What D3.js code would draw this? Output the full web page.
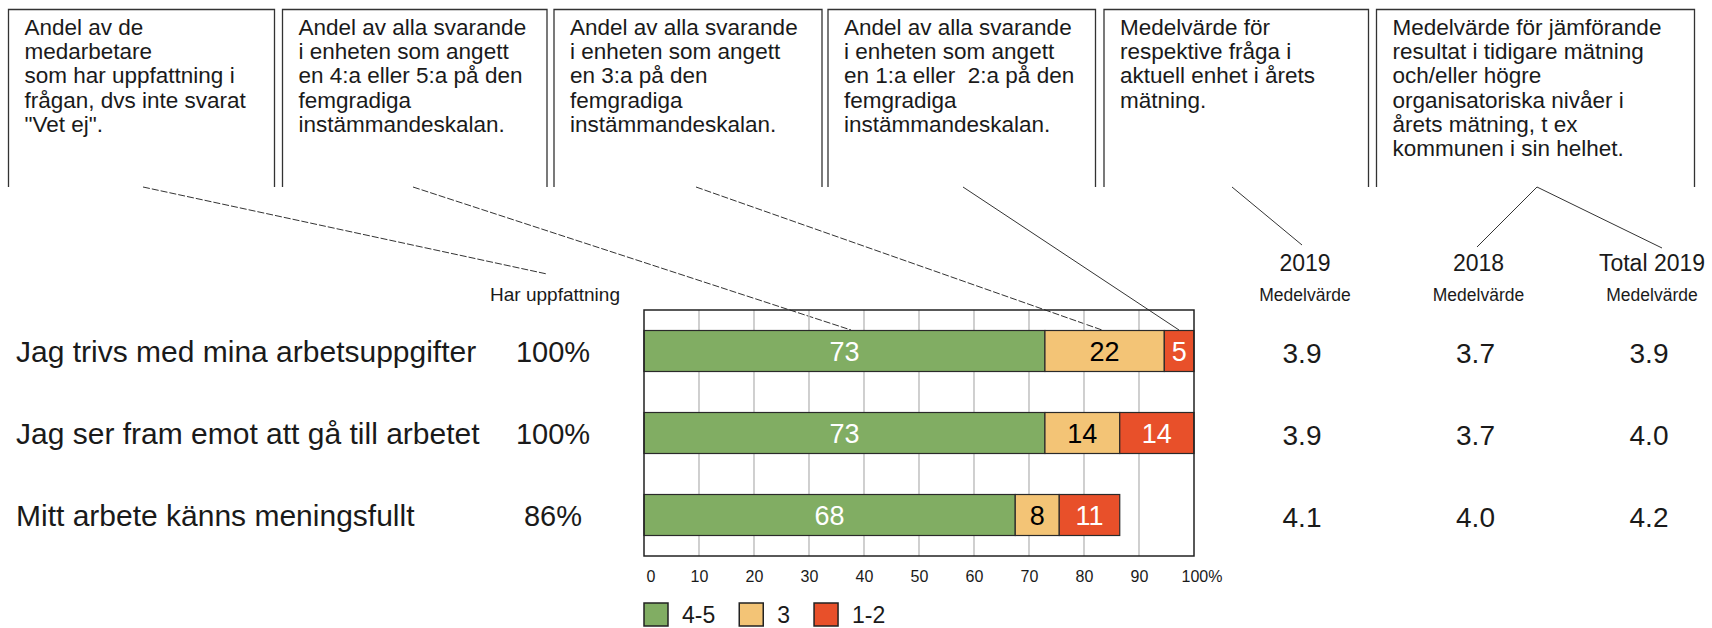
<!DOCTYPE html>
<html>
<head>
<meta charset="utf-8">
<script src="https://cdn.jsdelivr.net/npm/d3@7"></script>
<style>
  body { margin: 0; background: #fff; }
  svg { display: block; font-family: "Liberation Sans", Arial, sans-serif; }
</style>
</head>
<body>
<svg id="chart" width="1712" height="628"></svg>
<script>
// --- data ---
const questions = [
  "Jag trivs med mina arbetsuppgifter",
  "Jag ser fram emot att gå till arbetet",
  "Mitt arbete känns meningsfullt"
];
const harUppfattning = [100, 100, 86];
const share45 = [72.9, 72.9, 67.5];
const share3 = [21.7, 13.6, 8.0];
const share12 = [5.4, 13.5, 11.0];
const mean2019 = [3.9, 3.9, 4.1];
const mean2018 = [3.7, 3.7, 4.0];
const meanTotal2019 = [3.9, 4.0, 4.2];
const groups = ["4-5", "3", "1-2"];
const groupColors = ["#81ad63", "#f3c476", "#e8502a"];
const xTicks = [0, 10, 20, 30, 40, 50, 60, 70, 80, 90, 100];
const columnTitles = ["2019", "2018", "Total 2019"];
const columnSub = "Medelvärde";

const boxTexts = [
  ["Andel av de", "medarbetare", "som har uppfattning i", "frågan, dvs inte svarat", "\"Vet ej\"."],
  ["Andel av alla svarande", "i enheten som angett", "en 4:a eller 5:a på den", "femgradiga", "instämmandeskalan."],
  ["Andel av alla svarande", "i enheten som angett", "en 3:a på den", "femgradiga", "instämmandeskalan."],
  ["Andel av alla svarande", "i enheten som angett", "en 1:a eller  2:a på den", "femgradiga", "instämmandeskalan."],
  ["Medelvärde för", "respektive fråga i", "aktuell enhet i årets", "mätning."],
  ["Medelvärde för jämförande", "resultat i tidigare mätning", "och/eller högre", "organisatoriska nivåer i", "årets mätning, t ex", "kommunen i sin helhet."]
];

// --- layout ---
const svg = d3.select("#chart");
const ink = "#1a1a1a";

const x = d3.scaleLinear().domain([0, 100]).range([644, 1194]);
const y = d3.scaleBand().domain(questions).range([310, 556])
  .paddingInner(0.5).paddingOuter(0.25);
const mid = q => y(q) + y.bandwidth() / 2;

// explanation boxes (open at the bottom)
const boxes = [
  [8.5, 274.5], [282.5, 547], [554, 822], [828, 1095.5], [1104, 1368.5], [1376.5, 1694.5]
];
const boxTop = 9.5, boxBottom = 187;
const boxG = svg.append("g");
boxes.forEach(([l, r], i) => {
  boxG.append("path")
    .attr("d", `M${l},${boxBottom}V${boxTop}H${r}V${boxBottom}`)
    .attr("fill", "none").attr("stroke", "#333").attr("stroke-width", 1.3);
  const t = boxG.append("text")
    .attr("x", l + 16).attr("y", 35)
    .attr("font-size", 22.5).attr("fill", ink)
    .style("white-space", "pre");
  t.selectAll("tspan").data(boxTexts[i]).join("tspan")
    .attr("x", l + 16).attr("dy", (d, k) => k === 0 ? 0 : 24.2)
    .text(d => d);
});

// connector lines from boxes
const connectors = [
  { pts: [[143, 187], [547, 274]], dash: "7,2" },
  { pts: [[413, 187], [851, 330]], dash: "7,2" },
  { pts: [[696, 187], [1102, 330]], dash: "7,2" },
  { pts: [[963, 187], [1179, 330]], dash: null },
  { pts: [[1232, 187], [1302, 245]], dash: null },
  { pts: [[1477, 247], [1537, 187], [1662, 248]], dash: null }
];
svg.append("g").selectAll("path").data(connectors).join("path")
  .attr("d", d => d3.line()(d.pts))
  .attr("fill", "none").attr("stroke", "#333").attr("stroke-width", 1)
  .attr("stroke-dasharray", d => d.dash);

// gridlines
svg.append("g").selectAll("line").data(xTicks.filter(d => d > 0 && d < 100)).join("line")
  .attr("x1", d => x(d)).attr("x2", d => x(d))
  .attr("y1", 310).attr("y2", 556)
  .attr("stroke", "#c4c4c4").attr("stroke-width", 1.6);

// stacked bars
const table = questions.map((q, i) => ({ q, "4-5": share45[i], "3": share3[i], "1-2": share12[i] }));
const series = d3.stack().keys(groups)(table);

const barG = svg.append("g");
series.forEach((s, si) => {
  barG.append("g").selectAll("rect").data(s).join("rect")
    .attr("x", d => x(d[0])).attr("width", d => x(d[1]) - x(d[0]))
    .attr("y", d => y(d.data.q)).attr("height", y.bandwidth())
    .attr("fill", groupColors[si])
    .attr("stroke", "#2a2a2a").attr("stroke-width", 1.2);
  barG.append("g").selectAll("text").data(s).join("text")
    .attr("x", d => (x(d[0]) + x(d[1])) / 2)
    .attr("y", d => mid(d.data.q) + 9.5)
    .attr("text-anchor", "middle").attr("font-size", 27)
    .attr("fill", si === 1 ? "#000" : "#fff")
    .text(d => Math.round(d[1] - d[0]));
});

// plot frame
svg.append("rect")
  .attr("x", x(0)).attr("y", 310).attr("width", x(100) - x(0)).attr("height", 246)
  .attr("fill", "none").attr("stroke", "#222").attr("stroke-width", 1.5);

// x axis labels
const axis = svg.append("g").attr("transform", "translate(0,556)")
  .call(d3.axisBottom(x).tickValues(xTicks).tickSize(0).tickPadding(15)
    .tickFormat(d => d === 100 ? "100%" : d));
axis.select(".domain").remove();
axis.selectAll("text").attr("font-size", 16).attr("fill", ink)
  .attr("font-family", "Liberation Sans, Arial, sans-serif");
axis.selectAll(".tick").filter(d => d === 0).select("text")
  .attr("text-anchor", "start").attr("x", 2);
axis.selectAll(".tick").filter(d => d === 100).select("text")
  .attr("text-anchor", "start").attr("x", -13);

// legend
const legend = svg.append("g").attr("transform", "translate(644,603)");
let lx = 0;
groups.forEach((g, i) => {
  legend.append("rect").attr("x", lx).attr("y", 0).attr("width", 24).attr("height", 23)
    .attr("fill", groupColors[i]).attr("stroke", "#222").attr("stroke-width", 1.5);
  const t = legend.append("text").attr("x", lx + 38).attr("y", 20)
    .attr("font-size", 23).attr("fill", ink).text(g);
  lx += 38 + t.node().getComputedTextLength() + 24;
});

// question labels and "Har uppfattning"
svg.append("text").attr("x", 555).attr("y", 301).attr("text-anchor", "middle")
  .attr("font-size", 19).attr("fill", ink).text("Har uppfattning");
svg.append("g").selectAll("text").data(questions).join("text")
  .attr("x", 16).attr("y", d => mid(d) + 10.5)
  .attr("font-size", 30).attr("fill", ink).text(d => d);
svg.append("g").selectAll("text").data(questions).join("text")
  .attr("x", 553).attr("y", d => mid(d) + 10.5)
  .attr("text-anchor", "middle").attr("font-size", 29).attr("fill", ink)
  .text((d, i) => harUppfattning[i] + "%");

// mean columns
const colX = d3.scalePoint().domain(columnTitles).range([1305, 1652]);
const colValues = [mean2019, mean2018, meanTotal2019];
const fmt = d3.format(".1f");
columnTitles.forEach((c, ci) => {
  const g = svg.append("g");
  g.append("text").attr("x", colX(c)).attr("y", 271).attr("text-anchor", "middle")
    .attr("font-size", 23).attr("fill", ink).text(c);
  g.append("text").attr("x", colX(c)).attr("y", 301).attr("text-anchor", "middle")
    .attr("font-size", 17.5).attr("fill", ink).text(columnSub);
  g.selectAll("text.v").data(questions).join("text").attr("class", "v")
    .attr("x", colX(c) - 3).attr("y", d => mid(d) + 12)
    .attr("text-anchor", "middle").attr("font-size", 28).attr("fill", ink)
    .text((d, i) => fmt(colValues[ci][i]));
});
</script>
</body>
</html>
